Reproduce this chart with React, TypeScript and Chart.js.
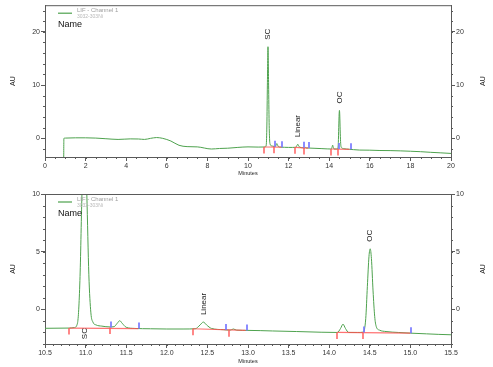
import React, { useEffect, useRef } from 'react';
import { Chart, registerables } from 'chart.js';

Chart.register(...registerables);

// ---- data ----
const traceX = [
  0.92, 0.93, 1.0, 1.5, 2.0, 2.5, 3.0, 3.6, 4.2, 4.6, 4.9, 5.2, 5.5, 5.8, 6.2, 6.6, 7.0, 7.5, 8.2, 8.6, 9.0, 9.5, 10.0,
  10.5, 10.8, 10.86, 10.9, 10.93, 10.955, 10.985, 11.015, 11.04, 11.065, 11.09, 11.13, 11.2, 11.3,
  11.35, 11.39, 11.42, 11.45, 11.5, 11.6, 11.8, 12.0, 12.2, 12.35, 12.41, 12.45, 12.49, 12.55, 12.7,
  12.78, 12.82, 12.86, 13.0, 13.3, 13.6, 13.9, 14.1, 14.14, 14.17, 14.2, 14.24, 14.35, 14.42,
  14.45, 14.47, 14.49, 14.505, 14.52, 14.54, 14.56, 14.58, 14.62, 14.7, 14.85, 15.0, 15.2, 15.5,
  16.0, 16.5, 17.0, 17.5, 18.0, 18.5, 19.0, 19.5, 20.0,
];
const traceY = [
  -5, 0.0, 0.05, 0.1, 0.1, 0.05, -0.07, -0.2, -0.1, -0.12, -0.2, 0.0, 0.15, 0.0, -0.5, -1.3, -1.55, -1.6, -2.0, -1.9, -1.85, -1.7, -1.6,
  -1.64, -1.62, -1.58, -1.2, 2.5, 10, 17.2, 10, 3, -0.3, -1.1, -1.35, -1.45, -1.52,
  -1.5, -1.2, -0.98, -1.2, -1.55, -1.65, -1.68, -1.7, -1.7, -1.68, -1.35, -1.1, -1.35, -1.65, -1.76,
  -1.8, -1.7, -1.8, -1.82, -1.87, -1.92, -1.98, -2.0, -1.65, -1.28, -1.65, -2.0, -2.0, -1.97,
  -0.8, 2.0, 4.6, 5.25, 4.4, 1.6, -0.6, -1.5, -1.8, -1.92, -2.0, -2.06, -2.12, -2.2,
  -2.22, -2.28, -2.3, -2.35, -2.42, -2.5, -2.62, -2.72, -2.83,
];

const redTickX = [10.8, 11.3, 12.32, 12.77, 14.1, 14.42];
const redTickY = [-1.62, -1.56, -1.68, -1.8, -2.0, -2.0];
const blueTickX = [11.3, 11.65, 12.72, 12.97, 14.42, 15.0];
const blueTickY = [-1.56, -1.66, -1.78, -1.82, -2.0, -2.06];
const baseStartX = [10.8, 12.32, 14.1];
const baseStartY = [-1.62, -1.68, -2.0];
const baseEndX = [11.65, 12.97, 15.0];
const baseEndY = [-1.66, -1.82, -2.06];

const peakNames = ['SC', 'Linear', 'OC'];
const peakX = [10.985, 12.45, 14.505];
const peakY = [17.2, -1.1, 5.25];
const peakBaseY = [-1.62, -1.68, -2.0];

const topXTicks = [0, 2, 4, 6, 8, 10, 12, 14, 16, 18, 20];
const topYTicks = [0, 10, 20];
const bottomXTicks = [10.5, 11.0, 11.5, 12.0, 12.5, 13.0, 13.5, 14.0, 14.5, 15.0, 15.5];
const bottomYTicks = [0, 5, 10];

const legendTitle = 'LIF - Channel 1';
const legendSub = '3032-303Ni';
const nameText = 'Name';
const yTitle = 'AU';
const xTitle = 'Minutes';

const FONT = "'Liberation Sans', Arial, sans-serif";
const AXIS = '#5a5a5a';
const GREEN = '#4ea24e';

const overlay = {
  id: 'overlay',
  afterDatasetsDraw(chart: any, _args: any, opts: any) {
    const ctx = chart.ctx as CanvasRenderingContext2D;
    const a = chart.chartArea;
    const xs = chart.scales.x;
    const ys = chart.scales.y;
    ctx.save();
    ctx.beginPath();
    ctx.rect(a.left, a.top, a.right - a.left, a.bottom - a.top);
    ctx.clip();
    // baselines
    ctx.strokeStyle = 'rgba(255,80,80,0.8)';
    ctx.lineWidth = 1.2;
    for (let i = 0; i < baseStartX.length; i++) {
      ctx.beginPath();
      ctx.moveTo(xs.getPixelForValue(baseStartX[i]), ys.getPixelForValue(baseStartY[i]));
      ctx.lineTo(xs.getPixelForValue(baseEndX[i]), ys.getPixelForValue(baseEndY[i]));
      ctx.stroke();
    }
    // red ticks (down)
    ctx.strokeStyle = 'rgba(255,90,90,0.9)';
    ctx.lineWidth = 1.6;
    for (let i = 0; i < redTickX.length; i++) {
      const px = Math.round(xs.getPixelForValue(redTickX[i]));
      const py = ys.getPixelForValue(redTickY[i]);
      ctx.beginPath();
      ctx.moveTo(px, py);
      ctx.lineTo(px, py + 6.5);
      ctx.stroke();
    }
    // blue ticks (up)
    ctx.strokeStyle = 'rgba(120,120,255,0.85)';
    ctx.lineWidth = 2;
    for (let i = 0; i < blueTickX.length; i++) {
      const px = Math.round(xs.getPixelForValue(blueTickX[i])) + 1;
      const py = ys.getPixelForValue(blueTickY[i]);
      ctx.beginPath();
      ctx.moveTo(px, py);
      ctx.lineTo(px, py - 6);
      ctx.stroke();
    }
    ctx.restore();

    // peak labels
    ctx.save();
    ctx.fillStyle = '#222';
    ctx.font = `8px ${FONT}`;
    ctx.textBaseline = 'middle';
    for (let i = 0; i < peakNames.length; i++) {
      const px = xs.getPixelForValue(peakX[i]);
      let py = ys.getPixelForValue(peakY[i]);
      ctx.save();
      if (py < a.top) {
        py = ys.getPixelForValue(peakBaseY[i]);
        ctx.translate(px, py);
        ctx.rotate(-Math.PI / 2);
        ctx.textAlign = 'right';
        ctx.fillText(peakNames[i], 0, 0);
      } else {
        ctx.translate(px, py - 7);
        ctx.rotate(-Math.PI / 2);
        ctx.textAlign = 'left';
        ctx.fillText(peakNames[i], 0, 0);
      }
      ctx.restore();
    }
    ctx.restore();
  },
  afterDraw(chart: any, _args: any, opts: any) {
    const ctx = chart.ctx as CanvasRenderingContext2D;
    const a = chart.chartArea;
    const xs = chart.scales.x;
    const ys = chart.scales.y;
    ctx.save();
    // top frame line
    ctx.strokeStyle = AXIS;
    ctx.lineWidth = 1;
    ctx.beginPath();
    ctx.moveTo(a.left, a.top + 0.5);
    ctx.lineTo(a.right, a.top + 0.5);
    ctx.stroke();
    // minor ticks
    const minorLen = 2;
    const xStep = opts.xMinor;
    for (let v = Math.ceil(xs.min / xStep - 1e-6) * xStep; v <= xs.max + 1e-6; v += xStep) {
      const px = Math.round(xs.getPixelForValue(v)) + 0.5;
      ctx.beginPath();
      ctx.moveTo(px, a.bottom);
      ctx.lineTo(px, a.bottom + minorLen);
      ctx.stroke();
    }
    const yStep = opts.yMinor;
    for (let v = Math.ceil(ys.min / yStep - 1e-6) * yStep; v <= ys.max + 1e-6; v += yStep) {
      const py = Math.round(ys.getPixelForValue(v)) + 0.5;
      ctx.beginPath();
      ctx.moveTo(a.left - minorLen, py);
      ctx.lineTo(a.left, py);
      ctx.moveTo(a.right, py);
      ctx.lineTo(a.right + minorLen, py);
      ctx.stroke();
    }

    // legend
    const ly = a.top + 8;
    ctx.strokeStyle = GREEN;
    ctx.lineWidth = 1.2;
    ctx.beginPath();
    ctx.moveTo(a.left + 13, ly);
    ctx.lineTo(a.left + 27, ly);
    ctx.stroke();
    ctx.textBaseline = 'middle';
    ctx.textAlign = 'left';
    ctx.fillStyle = '#a0a0a0';
    ctx.font = `6px ${FONT}`;
    ctx.fillText(legendTitle, a.left + 32, a.top + 5);
    ctx.fillStyle = '#b8b8b8';
    ctx.font = `5px ${FONT}`;
    ctx.fillText(legendSub, a.left + 32, a.top + 11.5);
    ctx.fillStyle = '#111';
    ctx.font = `9px ${FONT}`;
    ctx.fillText(nameText, a.left + 13, a.top + 19.5);

    // axis titles
    const cy = (a.top + a.bottom) / 2;
    ctx.font = `7px ${FONT}`;
    ctx.fillStyle = '#222';
    ctx.textAlign = 'center';
    for (const tx of [13, chart.width - 10]) {
      ctx.save();
      ctx.translate(tx, cy);
      ctx.rotate(-Math.PI / 2);
      ctx.fillText(yTitle, 0, 0);
      ctx.restore();
    }
    ctx.font = `5.5px ${FONT}`;
    ctx.fillText(xTitle, (a.left + a.right) / 2, a.bottom + opts.minutesOffset);
    ctx.restore();
  },
};

type PanelProps = {
  xMin: number; xMax: number; yMin: number; yMax: number;
  xTicks: number[]; yTicks: number[]; xMinor: number; yMinor: number;
  height: number; padTop: number; xAxisHeight: number; xDecimals: number; minutesOffset: number;
};

function Panel(p: PanelProps) {
  const ref = useRef<HTMLCanvasElement | null>(null);
  useEffect(() => {
    if (!ref.current) return;
    const tickFont = { family: FONT, size: 7 };
    const yAxisCommon = (position: 'left' | 'right', width: number) => ({
      type: 'linear' as const,
      position,
      min: p.yMin,
      max: p.yMax,
      display: true,
      afterBuildTicks: (s: any) => { s.ticks = p.yTicks.map((v) => ({ value: v })); },
      afterFit: (s: any) => { s.width = width; },
      ticks: { font: tickFont, color: '#333', padding: 1, callback: (v: any) => String(v) },
      grid: { drawOnChartArea: false, drawTicks: true, tickLength: 4, color: AXIS },
      border: { display: true, color: AXIS },
    });
    const chart = new Chart(ref.current, {
      type: 'line',
      data: {
        datasets: [
          {
            data: traceX.map((x, i) => ({ x, y: traceY[i] })),
            borderColor: GREEN,
            borderWidth: 1,
            pointRadius: 0,
            cubicInterpolationMode: 'monotone',
            yAxisID: 'y',
          },
        ],
      },
      options: {
        animation: false,
        responsive: false,
        layout: { padding: { top: p.padTop, left: 0, right: 0, bottom: 0 } },
        plugins: {
          legend: { display: false },
          tooltip: { enabled: false },
          overlay: { xMinor: p.xMinor, yMinor: p.yMinor, minutesOffset: p.minutesOffset },
        } as any,
        scales: {
          x: {
            type: 'linear',
            min: p.xMin,
            max: p.xMax,
            afterBuildTicks: (s: any) => { s.ticks = p.xTicks.map((v) => ({ value: v })); },
            afterFit: (s: any) => { s.height = p.xAxisHeight; },
            ticks: {
              font: tickFont, color: '#333', padding: 1, maxRotation: 0, autoSkip: false,
              callback: (v: any) => Number(v).toFixed(p.xDecimals),
            },
            grid: { drawOnChartArea: false, drawTicks: true, tickLength: 4, color: AXIS },
            border: { display: true, color: AXIS },
          },
          y: yAxisCommon('left', 45),
          y2: yAxisCommon('right', 42),
        } as any,
      },
      plugins: [overlay as any],
    });
    return () => chart.destroy();
  }, []);
  return <canvas ref={ref} width={493} height={p.height} style={{ display: 'block', width: 493, height: p.height }} />;
}

export default function App() {
  return (
    <div style={{ position: 'absolute', left: 0, top: 0, width: 493, height: 367, background: '#fff' }}>
      <Panel xMin={0} xMax={20} yMin={-3.5} yMax={25} xTicks={topXTicks} yTicks={topYTicks}
        xMinor={0.5} yMinor={2} height={183} padTop={5} xAxisHeight={26} xDecimals={0} minutesOffset={16} />
      <Panel xMin={10.5} xMax={15.5} yMin={-3} yMax={10} xTicks={bottomXTicks} yTicks={bottomYTicks}
        xMinor={0.1} yMinor={1} height={184} padTop={11} xAxisHeight={23} xDecimals={1} minutesOffset={17} />
    </div>
  );
}
